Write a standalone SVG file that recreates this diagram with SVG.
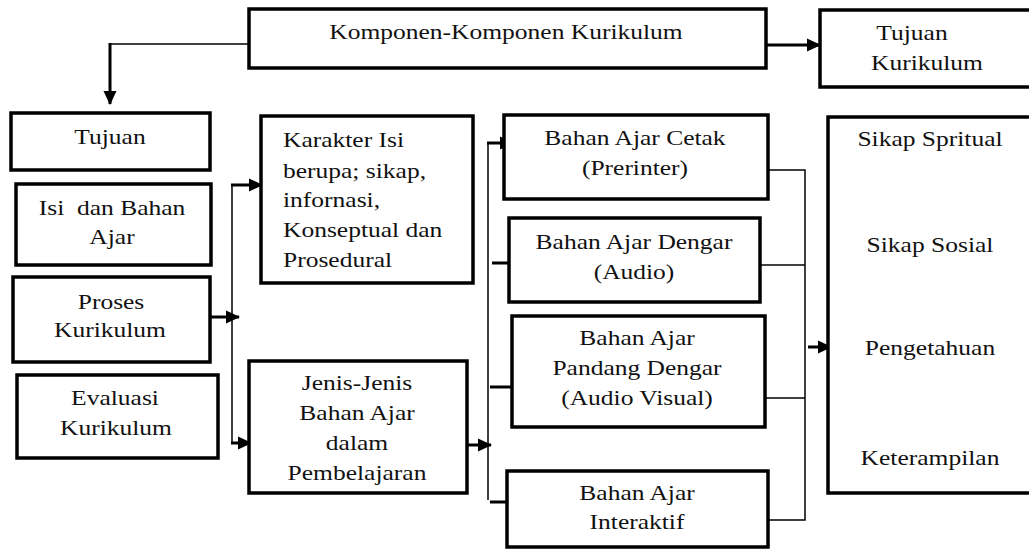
<svg xmlns="http://www.w3.org/2000/svg" width="1029" height="549" viewBox="0 0 1029 549" font-family="Liberation Serif, Times New Roman, DejaVu Serif, serif">
<style>
.box{fill:#fff;stroke:#000;stroke-width:3.5}
text{font-size:20.5px;fill:#111;text-anchor:middle}
text.l{text-anchor:start}
.c{fill:none;stroke:#000;stroke-width:1.5}
.a{fill:none;stroke:#000;stroke-width:3;marker-end:url(#ah)}
</style>
<defs>
<marker id="ah" markerUnits="userSpaceOnUse" markerWidth="14" markerHeight="14" refX="13" refY="7" orient="auto">
<path d="M0,0.5 L14,7 L0,13.5 Z" fill="#000"/>
</marker>
</defs>
<rect width="1029" height="549" fill="#fff"/>
<g id="connectors">
<polyline class="c" points="249,44 110,44"/>
<line class="a" x1="110" y1="43" x2="110" y2="104"/>
<line class="a" x1="766" y1="45" x2="820" y2="45"/>
<line class="a" x1="210" y1="317" x2="239" y2="317"/>
<polyline class="c" points="232,185 232,443"/>
<line class="a" x1="231" y1="185" x2="262" y2="185"/>
<line class="a" x1="231" y1="443" x2="251" y2="443"/>
<line class="a" x1="467" y1="445" x2="491" y2="445"/>
<polyline class="c" points="488,143 488,500"/>
<line class="a" x1="487" y1="143" x2="513" y2="143"/>
<line class="a" x1="492" y1="263" x2="524" y2="263"/>
<line class="a" x1="490" y1="387" x2="524" y2="387"/>
<line class="a" x1="490" y1="502" x2="524" y2="502"/>
<polyline class="c" points="768,170 805,170 805,520 763,520"/>
<line class="c" x1="760" y1="265" x2="805" y2="265"/>
<line class="c" x1="765" y1="398" x2="805" y2="398"/>
<line class="a" x1="808" y1="347" x2="831" y2="347"/>
</g>
<g id="komponen">
<rect class="box" x="249" y="9" width="517" height="59"/>
<text transform="translate(506,39) scale(1.245,1)">Komponen-Komponen Kurikulum</text>
</g>
<g id="tujuan-kurikulum">
<rect class="box" x="820" y="10" width="220" height="77"/>
<text transform="translate(912,40) scale(1.245,1)">Tujuan</text>
<text transform="translate(927,70) scale(1.245,1)">Kurikulum</text>
</g>
<g id="tujuan">
<rect class="box" x="11" y="113" width="199" height="57"/>
<text transform="translate(110,144) scale(1.245,1)">Tujuan</text>
</g>
<g id="isi">
<rect class="box" x="16" y="184" width="195" height="81"/>
<text transform="translate(112,215) scale(1.245,1)" xml:space="preserve">Isi  dan Bahan</text>
<text transform="translate(112,244) scale(1.245,1)">Ajar</text>
</g>
<g id="proses">
<rect class="box" x="13" y="277" width="197" height="85"/>
<text transform="translate(111,309) scale(1.245,1)">Proses</text>
<text transform="translate(110,337) scale(1.245,1)">Kurikulum</text>
</g>
<g id="evaluasi">
<rect class="box" x="17" y="375" width="201" height="83"/>
<text transform="translate(115,405) scale(1.245,1)">Evaluasi</text>
<text transform="translate(116,435) scale(1.245,1)">Kurikulum</text>
</g>
<g id="karakter">
<rect class="box" x="261" y="116" width="212" height="167"/>
<text class="l" transform="translate(283,147) scale(1.245,1)">Karakter Isi</text>
<text class="l" transform="translate(283,178) scale(1.245,1)">berupa; sikap,</text>
<text class="l" transform="translate(283,207) scale(1.245,1)">infornasi,</text>
<text class="l" transform="translate(283,237) scale(1.245,1)">Konseptual dan</text>
<text class="l" transform="translate(283,267) scale(1.245,1)">Prosedural</text>
</g>
<g id="jenis">
<rect class="box" x="249" y="361" width="218" height="132"/>
<text transform="translate(357,390) scale(1.245,1)">Jenis-Jenis</text>
<text transform="translate(357,420) scale(1.245,1)">Bahan Ajar</text>
<text transform="translate(357,450) scale(1.245,1)">dalam</text>
<text transform="translate(357,480) scale(1.245,1)">Pembelajaran</text>
</g>
<g id="cetak">
<rect class="box" x="504" y="115" width="264" height="84"/>
<text transform="translate(635,145) scale(1.245,1)">Bahan Ajar Cetak</text>
<text transform="translate(635,175) scale(1.245,1)">(Prerinter)</text>
</g>
<g id="dengar">
<rect class="box" x="509" y="218" width="251" height="84"/>
<text transform="translate(634,249) scale(1.245,1)">Bahan Ajar Dengar</text>
<text transform="translate(634,279) scale(1.245,1)">(Audio)</text>
</g>
<g id="pandang">
<rect class="box" x="512" y="316" width="253" height="111"/>
<text transform="translate(637,345) scale(1.245,1)">Bahan Ajar</text>
<text transform="translate(637,375) scale(1.245,1)">Pandang Dengar</text>
<text transform="translate(637,405) scale(1.245,1)">(Audio Visual)</text>
</g>
<g id="interaktif">
<rect class="box" x="507" y="471" width="261" height="76"/>
<text transform="translate(637,500) scale(1.245,1)">Bahan Ajar</text>
<text transform="translate(637,529) scale(1.245,1)">Interaktif</text>
</g>
<g id="hasil">
<rect class="box" x="828" y="117" width="220" height="376"/>
<text transform="translate(930,146) scale(1.245,1)">Sikap Spritual</text>
<text transform="translate(930,252) scale(1.245,1)">Sikap Sosial</text>
<text transform="translate(930,355) scale(1.245,1)">Pengetahuan</text>
<text transform="translate(930,465) scale(1.245,1)">Keterampilan</text>
</g>
</svg>
